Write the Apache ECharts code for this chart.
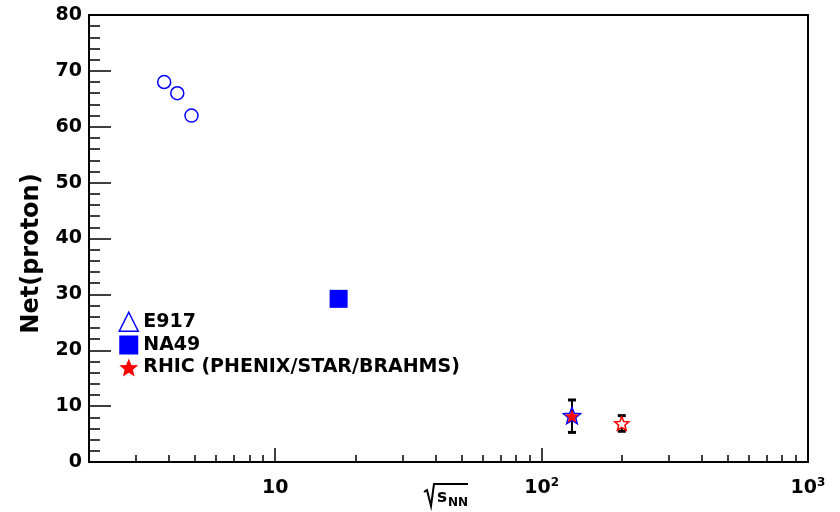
<!DOCTYPE html>
<html><head><meta charset="utf-8">
<script src="https://cdn.jsdelivr.net/npm/echarts@6/dist/echarts.min.js"></script>
<style>html,body{margin:0;padding:0;background:#fff}#c{width:840px;height:512px}</style>
</head><body><div id="c"></div>
<script>
const FONT = '"DejaVu Sans", sans-serif';
// AGS open circles
const agsX = [3.83, 4.29, 4.85];
const agsY = [68, 66, 62];
// NA49
const na49X = [17.3];
const na49Y = [29.2];
// RHIC filled red star (with error)
const rhicX = [130];
const rhicY = [8.2];
const rhicErr = [2.9];
// blue open star at 130
const starX = [130];
const starY = [8.3];
// red open star at 200 (with error)
const brahmsX = [200];
const brahmsY = [6.9];
const brahmsErr = [1.4];
// axes
const xMajorTicks = [10, 100, 1000];
const xTickLabels = ['{b|10}', '{b|10}{s|2}', '{b|10}{s|3}'];
const xMinorTicks = [2,3,4,5,6,7,8,9,20,30,40,50,60,70,80,90,200,300,400,500,600,700,800,900];
const yMin = 0, yMax = 80, yStep = 10;
const legendNames = ['E917', 'NA49', 'RHIC (PHENIX/STAR/BRAHMS)'];

const STAR = 'path://M50,0L62.93,32.2L97.55,34.55L70.92,56.8L79.39,90.45L50,72L20.61,90.45L29.08,56.8L2.45,34.55L37.07,32.2Z';
const BLUE = '#0000ff', RED = '#ff0000';
const zip = (a, b) => a.map((v, i) => [v, b[i]]);

const chart = echarts.init(document.getElementById('c'), null, {renderer: 'canvas'});
const tickStyle = {color: '#000', width: 1.5};
chart.setOption({
  animation: false,
  backgroundColor: '#fff',
  grid: {left: 89, right: 32, top: 15, bottom: 50, show: true, borderColor: '#000', borderWidth: 2},
  xAxis: [{
    type: 'log', logBase: 10, min: 2, max: 1000, position: 'bottom',
    axisLine: {show: true, lineStyle: {color: '#000', width: 2}},
    axisTick: {show: true, inside: true, length: 14, lineStyle: tickStyle, customValues: xMajorTicks},
    axisLabel: {
      customValues: xMajorTicks, margin: 15,
      formatter: v => xTickLabels[xMajorTicks.indexOf(Math.round(v))] || '',
      rich: {
        b: {fontFamily: FONT, fontWeight: 'bold', fontSize: 19, color: '#000', lineHeight: 22},
        s: {fontFamily: FONT, fontWeight: 'bold', fontSize: 12, color: '#000', verticalAlign: 'top', lineHeight: 22}
      }
    },
    splitLine: {show: false}
  }, {
    type: 'log', logBase: 10, min: 2, max: 1000, position: 'bottom', gridIndex: 0,
    axisLine: {show: false},
    axisTick: {show: true, inside: true, length: 7, lineStyle: tickStyle, customValues: xMinorTicks},
    axisLabel: {show: false},
    splitLine: {show: false}
  }],
  yAxis: {
    type: 'value', min: yMin, max: yMax, interval: yStep,
    axisLine: {show: true, lineStyle: {color: '#000', width: 2}},
    axisTick: {show: true, inside: true, length: 22, lineStyle: tickStyle},
    minorTick: {show: true, splitNumber: 5, length: 11, lineStyle: tickStyle},
    axisLabel: {fontFamily: FONT, fontWeight: 'bold', fontSize: 19, color: '#000', margin: 7},
    splitLine: {show: false},
    name: 'Net(proton)', nameLocation: 'middle', nameRotate: 90, nameGap: 45,
    nameTextStyle: {fontFamily: FONT, fontWeight: 'bold', fontSize: 24, color: '#000', padding: [0, 30, 0, 0]}
  },
  legend: {
    orient: 'vertical', left: 113.5, top: 306.5, itemWidth: 19, itemHeight: 19, itemGap: 3.5,
    selectedMode: false,
    textStyle: {fontFamily: FONT, fontWeight: 'bold', fontSize: 19, color: '#000'},
    data: [
      {name: legendNames[0], icon: 'triangle', itemStyle: {color: 'rgba(0,0,0,0)', borderColor: BLUE, borderWidth: 1.5, opacity: 1}},
      {name: legendNames[1]},
      {name: legendNames[2]}
    ]
  },
  series: [
    {name: legendNames[0], type: 'scatter', data: zip(agsX, agsY), symbol: 'circle', symbolSize: 13,
     itemStyle: {color: 'rgba(0,0,0,0)', borderColor: BLUE, borderWidth: 1.5, opacity: 1}},
    {name: legendNames[1], type: 'scatter', data: zip(na49X, na49Y), symbol: 'rect', symbolSize: 18,
     itemStyle: {color: BLUE, opacity: 1}},
    {name: 'errors', type: 'custom',
     data: [[rhicX[0], rhicY[0], rhicErr[0]], [brahmsX[0], brahmsY[0], brahmsErr[0]]],
     encode: {x: 0, y: 1},
     renderItem: (params, api) => {
       const x = api.value(0), y = api.value(1), e = api.value(2);
       const t = api.coord([x, y + e]), b = api.coord([x, y - e]);
       const c = 4;
       return {type: 'group', children: [
         {type: 'line', shape: {x1: t[0], y1: t[1], x2: b[0], y2: b[1]}, style: {stroke: '#000', lineWidth: 2}},
         {type: 'line', shape: {x1: t[0] - c, y1: t[1], x2: t[0] + c, y2: t[1]}, style: {stroke: '#000', lineWidth: 3}},
         {type: 'line', shape: {x1: b[0] - c, y1: b[1], x2: b[0] + c, y2: b[1]}, style: {stroke: '#000', lineWidth: 3}}
       ]};
     }},
    {name: 'STAR', type: 'scatter', data: zip(starX, starY), symbol: STAR, symbolSize: 17, symbolKeepAspect: true,
     itemStyle: {color: 'rgba(0,0,0,0)', borderColor: BLUE, borderWidth: 1.5, opacity: 1}},
    {name: legendNames[2], type: 'scatter', data: zip(rhicX, rhicY), symbol: STAR, symbolSize: 14, symbolKeepAspect: true,
     itemStyle: {color: RED, opacity: 1}},
    {name: 'BRAHMS', type: 'scatter', data: zip(brahmsX, brahmsY), symbol: STAR, symbolSize: 14, symbolKeepAspect: true,
     itemStyle: {color: '#fff', borderColor: RED, borderWidth: 1.5, opacity: 1}}
  ],
  graphic: [
    {type: 'polyline', shape: {points: [[424, 492], [427, 490], [431, 506], [434, 484], [468, 484]]},
     style: {stroke: '#000', lineWidth: 2, fill: null}},
    {type: 'text', style: {text: 's', x: 437, y: 498, fontFamily: FONT, fontWeight: 'bold', fontSize: 17, fill: '#000', verticalAlign: 'middle'}},
    {type: 'text', style: {text: 'NN', x: 448, y: 503, fontFamily: FONT, fontWeight: 'bold', fontSize: 12, fill: '#000', verticalAlign: 'middle'}}
  ]
});
</script></body></html>
